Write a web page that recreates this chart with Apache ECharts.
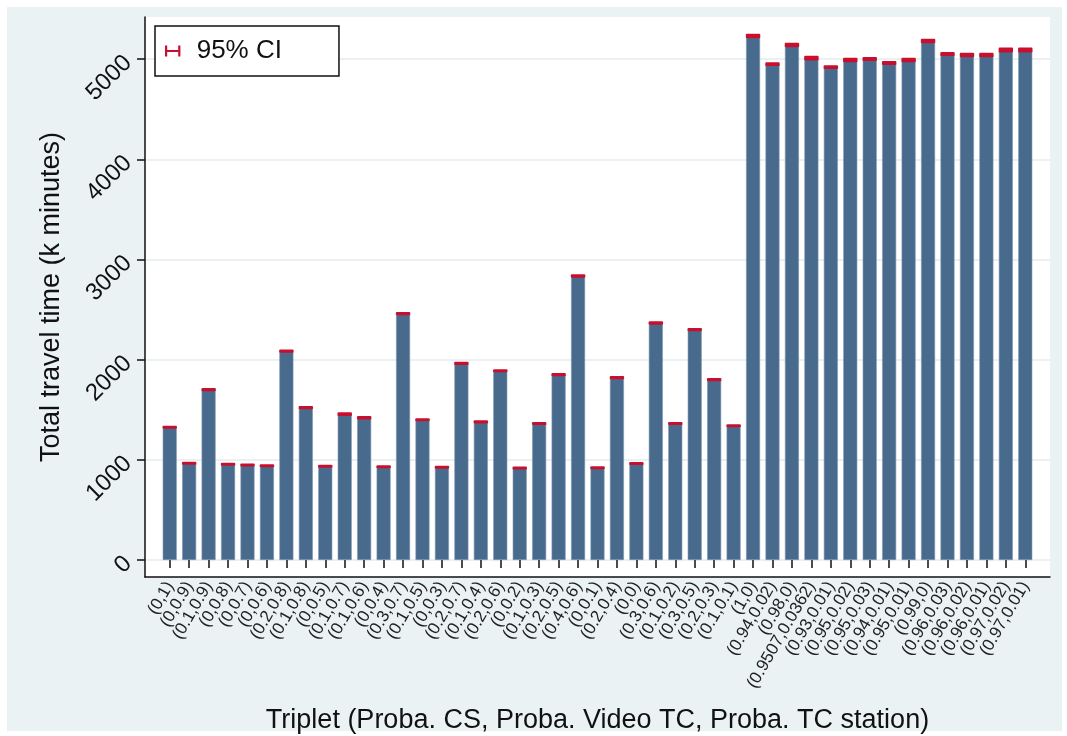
<!DOCTYPE html>
<html><head><meta charset="utf-8">
<script src="https://cdn.jsdelivr.net/npm/echarts@6/dist/echarts.min.js"></script>
<style>html,body{margin:0;padding:0;background:#fff}#c{width:1067px;height:736px}</style>
</head><body><div id="c"></div>
<script>
const categories = ['(0,1)','(0,0.9)','(0.1,0.9)','(0,0.8)','(0,0.7)','(0,0.6)','(0.2,0.8)','(0.1,0.8)','(0,0.5)','(0.1,0.7)',
  '(0.1,0.6)','(0,0.4)','(0.3,0.7)','(0.1,0.5)','(0,0.3)','(0.2,0.7)','(0.1,0.4)','(0.2,0.6)','(0,0.2)','(0.1,0.3)',
  '(0.2,0.5)','(0.4,0.6)','(0,0.1)','(0.2,0.4)','(0,0)','(0.3,0.6)','(0.1,0.2)','(0.3,0.5)','(0.2,0.3)','(0.1,0.1)',
  '(1,0)','(0.94,0.02)','(0.98,0)','(0.9507,0.0362)','(0.93,0.01)','(0.95,0.02)','(0.95,0.03)','(0.94,0.01)','(0.95,0.01)','(0.99,0)',
  '(0.96,0.03)','(0.96,0.02)','(0.96,0.01)','(0.97,0.02)','(0.97,0.01)'];
const means = [1325, 965, 1700, 955, 948, 940, 2085, 1520, 935, 1455,
  1420, 930, 2460, 1400, 925, 1962, 1378, 1890, 918, 1362,
  1850, 2835, 920, 1820, 962, 2365, 1362, 2300, 1800, 1340,
  5230, 4950, 5140, 5010, 4920, 4990, 5000, 4960, 4990, 5180,
  5050, 5040, 5040, 5090, 5090];
const ciHalf = [15, 15, 17, 14, 14, 14, 16, 16, 14, 19,
  18, 14, 16, 15, 14, 16, 16, 15, 14, 15,
  16, 17, 14, 16, 14, 17, 15, 16, 17, 15,
  22, 18, 22, 23, 18, 22, 20, 20, 22, 23,
  20, 22, 22, 25, 25];
const yTicks = [0, 1000, 2000, 3000, 4000, 5000];
const yMin = -170, yMax = 5420;

const barColor = '#486a8c';
const ciColor = '#c8102e';
const font = 'Liberation Sans, Arial, sans-serif';

const ciData = categories.map((c, i) => [i, means[i] - ciHalf[i], means[i] + ciHalf[i]]);

const chart = echarts.init(document.getElementById('c'), null, {renderer: 'canvas'});
chart.setOption({
  backgroundColor: '#ffffff',
  animation: false,
  textStyle: {fontFamily: font},
  graphic: [{type: 'rect', z: -10, shape: {x: 7, y: 7, width: 1055, height: 724}, style: {fill: '#eaf2f3'}}],
  legend: {
    left: 155, top: 26,
    data: [{name: '95% CI', icon: 'path://M0,0 L2,0 L2,4 L12,4 L12,0 L14,0 L14,10 L12,10 L12,6 L2,6 L2,10 L0,10 Z'}],
    itemWidth: 18, itemHeight: 11, itemGap: 10,
    padding: [12, 57, 12, 10],
    backgroundColor: '#ffffff', borderColor: '#111', borderWidth: 1.5, borderRadius: 0,
    textStyle: {fontSize: 26, color: '#111', fontFamily: font, padding: [0, 0, 0, 10]}
  },
  grid: [
    {left: 160, right: 32, top: 17, bottom: 159, outerBoundsMode: 'none', containLabel: false},
    {left: 145, right: 17, top: 17, bottom: 159, outerBoundsMode: 'none', containLabel: false,
     show: true, backgroundColor: '#ffffff', borderWidth: 0}
  ],
  xAxis: [
    {type: 'category', gridIndex: 0, data: categories, boundaryGap: true,
     axisLine: {show: false},
     axisTick: {show: true, alignWithLabel: true, length: 8, lineStyle: {color: '#111', width: 1.5}},
     axisLabel: {rotate: 60, interval: 0, fontSize: 17, color: '#222', margin: 6, fontFamily: font},
     splitLine: {show: false}},
    {type: 'value', gridIndex: 1, min: 0, max: 1,
     axisLine: {show: true, onZero: false, lineStyle: {color: '#111', width: 1.5}},
     axisTick: {show: false}, axisLabel: {show: false}, splitLine: {show: false},
     name: 'Triplet (Proba. CS, Proba. Video TC, Proba. TC station)', nameLocation: 'middle', nameGap: 130,
     nameTextStyle: {fontSize: 27, color: '#111', fontFamily: font}}
  ],
  yAxis: [
    {type: 'value', gridIndex: 0, min: yMin, max: yMax, show: false, splitLine: {show: false}},
    {type: 'value', gridIndex: 1, min: yMin, max: yMax,
     axisLine: {show: true, onZero: false, lineStyle: {color: '#111', width: 1.5}},
     axisTick: {show: true, length: 8, customValues: yTicks, lineStyle: {color: '#111', width: 1.5}},
     axisLabel: {customValues: yTicks, rotate: 45, fontSize: 24, color: '#111', margin: 17, fontFamily: font,
                 formatter: function (v) { return String(Math.round(v)); }},
     splitLine: {show: true, lineStyle: {color: '#e4edef', width: 1.5}},
     name: 'Total travel time (k minutes)', nameLocation: 'middle', nameGap: 80, nameRotate: 90,
     nameTextStyle: {fontSize: 27, color: '#111', fontFamily: font}}
  ],
  series: [
    {type: 'bar', xAxisIndex: 0, yAxisIndex: 0, data: means, barCategoryGap: '28%',
     itemStyle: {color: barColor, borderColor: '#7d97b0', borderWidth: 0.6}, z: 3},
    {type: 'custom', name: '95% CI', xAxisIndex: 0, yAxisIndex: 0, data: ciData,
     encode: {x: 0, y: [1, 2]}, z: 4,
     itemStyle: {color: ciColor},
     renderItem: function (params, api) {
       const idx = api.value(0);
       const lo = api.coord([idx, api.value(1)]);
       const hi = api.coord([idx, api.value(2)]);
       const w = api.size([1, 0])[0] * 0.74;
       let h = lo[1] - hi[1];
       let top = hi[1];
       if (h < 3) { top -= (3 - h) / 2; h = 3; }
       return {type: 'rect', shape: {x: lo[0] - w / 2, y: top, width: w, height: h, r: 1},
               style: {fill: ciColor}};
     }}
  ]
});
</script></body></html>
